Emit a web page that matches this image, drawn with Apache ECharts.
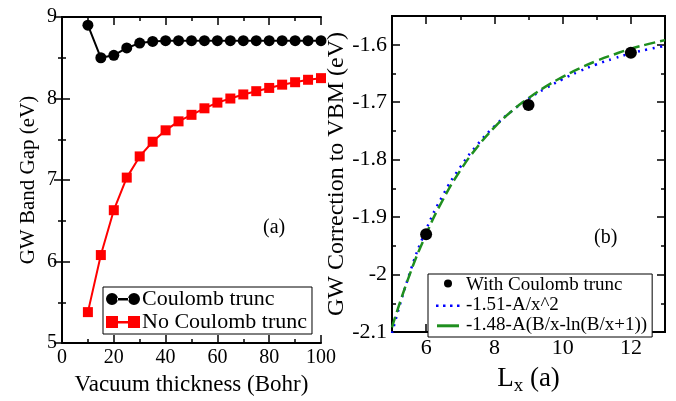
<!DOCTYPE html>
<html><head><meta charset="utf-8">
<script src="https://cdn.jsdelivr.net/npm/echarts@6/dist/echarts.min.js"></script>
<style>html,body{margin:0;padding:0;background:#fff}#c{width:676px;height:401px}</style>
</head><body><div id="c"></div>
<script>
// Panel (a)
const vacuum = [10,15,20,25,30,35,40,45,50,55,60,65,70,75,80,85,90,95,100];
const withTrunc = [8.90,8.50,8.53,8.62,8.68,8.70,8.71,8.71,8.71,8.71,8.71,8.71,8.71,8.71,8.71,8.71,8.71,8.71,8.71];
const noTrunc = [5.38,6.08,6.63,7.03,7.29,7.47,7.61,7.72,7.80,7.88,7.95,8.00,8.05,8.09,8.13,8.17,8.20,8.23,8.25];
// Panel (b)
const lx = [6,9,12];
const corr = [-1.930,-1.705,-1.614];
const fitX = [5,5.5,6,6.5,7,7.5,8,8.5,9,9.5,10,10.5,11,11.5,12,12.5,13];
const fitA = [-2.102,-2.001,-1.922,-1.861,-1.813,-1.774,-1.742,-1.716,-1.694,-1.676,-1.660,-1.646,-1.634,-1.624,-1.615,-1.608,-1.602];
const fitB = [-2.092,-2.003,-1.930,-1.869,-1.819,-1.778,-1.744,-1.716,-1.693,-1.673,-1.656,-1.641,-1.628,-1.617,-1.607,-1.599,-1.592];
const bXLabels = [6,8,10,12];
const bYLabels = [-2.1,-2.0,-1.9,-1.8,-1.7,-1.6];

const F = '"Liberation Serif","Times New Roman",serif';
const axLine = {show:true, lineStyle:{color:'#000', width:2}};
function ax(extra, showLabel, fs, fmt){
  return Object.assign({
    type:'value', axisLine:axLine,
    axisTick:{show:true, inside:true, length:8, lineStyle:{color:'#000', width:1.5}},
    minorTick:{show:true, splitNumber:2, length:4, lineStyle:{color:'#000', width:1.5}},
    splitLine:{show:false}, minorSplitLine:{show:false},
    axisLabel:{show:showLabel, color:'#000', fontFamily:F, fontSize:fs||20, margin:5, formatter:fmt},
    nameTextStyle:{color:'#000', fontFamily:F, fontSize:20}
  }, extra);
}
const fmtB = v => String(parseFloat(Number(v).toFixed(2)));
function bx(pos, withLabel){
  const a = ax({gridIndex:1, min:5, max:13, position:pos, offset:0}, withLabel, 22);
  a.minorTick = {show:false};
  a.axisTick = {show:true, inside:true, length:8, customValues:bXLabels, lineStyle:{color:'#000', width:1.5}};
  a.axisLabel.customValues = bXLabels;
  return a;
}
function bxMinor(pos){
  const a = ax({gridIndex:1, min:5, max:13, interval:1, position:pos, offset:0}, false);
  a.minorTick = {show:false};
  a.axisTick = {show:true, inside:true, length:4, lineStyle:{color:'#000', width:1.5}};
  return a;
}
const xB = bx('bottom', true);
xB.name = 'L{s|x} (a)'; xB.nameLocation = 'middle'; xB.nameGap = 30;
xB.nameTextStyle = {color:'#000', fontFamily:F, fontSize:27, rich:{s:{fontFamily:F, fontSize:19, padding:[15,0,0,0], color:'#000'}}};

const yB = ax({gridIndex:1, min:-2.1, max:-1.55, interval:0.1, position:'left', name:'GW Correction to VBM (eV)', nameLocation:'middle', nameGap:26}, true, 22, fmtB);
yB.nameTextStyle = {color:'#000', fontFamily:F, fontSize:24};
yB.axisLabel.customValues = bYLabels;

const circPair = 'path://M0,6a6,6 0 1,0 12,0a6,6 0 1,0 -12,0Z M22,6a6,6 0 1,0 12,0a6,6 0 1,0 -12,0Z M11,5L23,5L23,7.5L11,7.5Z';
const rectPair = 'path://M0,0h12v12h-12Z M22,0h12v12h-12Z M12,5h10v2.5h-10Z';
const dotsIcon = 'path://M0,0 M26,12 M1,5h2.5v2.5h-2.5Z M8,5h2.5v2.5h-2.5Z M15,5h2.5v2.5h-2.5Z M22,5h2.5v2.5h-2.5Z';
const dashIcon = 'path://M0,0 M26,12 M2,4.8h22v3h-22Z';
const dotIcon = 'path://M0,0 M26,12 M7,0a6,6 0 1,0 12,0a6,6 0 1,0 -12,0Z';

const chart = echarts.init(document.getElementById('c'), null, {renderer:'canvas'});
chart.setOption({
  animation:false,
  grid:[
    {left:62, top:17, width:259, height:330},
    {left:392, top:16, width:273, height:331}
  ],
  xAxis:[
    Object.assign(ax({gridIndex:0, min:0, max:100, interval:20, position:'bottom', name:'Vacuum thickness (Bohr)', nameLocation:'middle', nameGap:27}, true, 20),
      {nameTextStyle:{color:'#000', fontFamily:F, fontSize:23}}),
    ax({gridIndex:0, min:0, max:100, interval:20, position:'top'}, false),
    xB,
    bx('top', false),
    bxMinor('bottom'),
    bxMinor('top')
  ],
  yAxis:[
    Object.assign(ax({gridIndex:0, min:5, max:9, interval:1, position:'left', name:'GW Band Gap (eV)', nameLocation:'middle', nameGap:23}, true, 20),
      {nameTextStyle:{color:'#000', fontFamily:F, fontSize:21}}),
    ax({gridIndex:0, min:5, max:9, interval:1, position:'right'}, false),
    yB,
    ax({gridIndex:1, min:-2.1, max:-1.55, interval:0.1, position:'right'}, false)
  ],
  legend:[
    {left:103, top:287, orient:'vertical', itemGap:1, itemWidth:34, itemHeight:12, padding:[1,5,1,3],
     borderColor:'#000', borderWidth:1, backgroundColor:'#fff',
     textStyle:{fontFamily:F, fontSize:22, color:'#000', padding:[0,0,0,-3]},
     data:[{name:'Coulomb trunc', icon:circPair},{name:'No Coulomb trunc', icon:rectPair}]},
    {left:428, top:274, orient:'vertical', itemGap:1, itemWidth:26, itemHeight:12, padding:[2,5,2,7],
     borderColor:'#000', borderWidth:1, backgroundColor:'#fff',
     textStyle:{fontFamily:F, fontSize:19, color:'#000'},
     data:[{name:'With Coulomb trunc', icon:dotIcon},{name:'-1.51-A/x^2', icon:dotsIcon},{name:'-1.48-A(B/x-ln(B/x+1))', icon:dashIcon}]}
  ],
  series:[
    {name:'Coulomb trunc', type:'line', xAxisIndex:0, yAxisIndex:0, data:vacuum.map((x,i)=>[x,withTrunc[i]]),
     symbol:'circle', symbolSize:11, itemStyle:{color:'#000'}, lineStyle:{color:'#000', width:2}},
    {name:'No Coulomb trunc', type:'line', xAxisIndex:0, yAxisIndex:0, data:vacuum.map((x,i)=>[x,noTrunc[i]]),
     symbol:'rect', symbolSize:10, itemStyle:{color:'#ff0000'}, lineStyle:{color:'#ff0000', width:2}},
    {name:'-1.51-A/x^2', type:'line', xAxisIndex:2, yAxisIndex:2, data:fitX.map((x,i)=>[x,fitA[i]]),
     smooth:true, symbol:'none', itemStyle:{color:'#0000ff'}, lineStyle:{color:'#0000ff', width:2.5, type:[2,5.5]}},
    {name:'-1.48-A(B/x-ln(B/x+1))', type:'line', xAxisIndex:2, yAxisIndex:2, data:fitX.map((x,i)=>[x,fitB[i]]),
     smooth:true, symbol:'none', itemStyle:{color:'#1f8f1f'}, lineStyle:{color:'#1f8f1f', width:2.5, type:[11,5]}},
    {name:'With Coulomb trunc', type:'scatter', xAxisIndex:2, yAxisIndex:2, data:lx.map((x,i)=>[x,corr[i]]),
     symbol:'circle', symbolSize:12, itemStyle:{color:'#000', opacity:1}, z:5}
  ],
  graphic:[
    {type:'text', left:263, top:218, style:{text:'(a)', font:'20px '+F, fill:'#000'}},
    {type:'text', left:594, top:228, style:{text:'(b)', font:'20px '+F, fill:'#000'}}
  ]
});
</script></body></html>
